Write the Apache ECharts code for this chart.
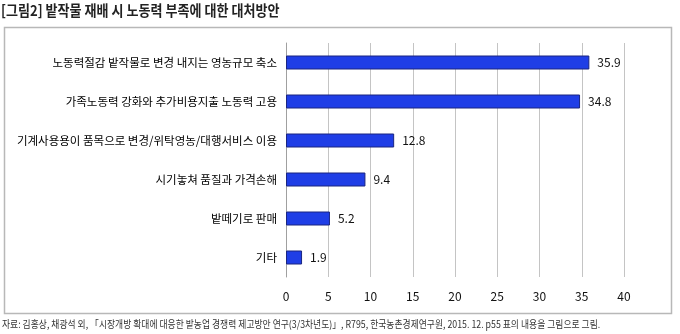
<!DOCTYPE html>
<html>
<head>
<meta charset="utf-8">
<script src="https://cdn.jsdelivr.net/npm/echarts@6/dist/echarts.min.js"></script>
<style>
  html, body { margin: 0; padding: 0; background: #fff; }
  #chart { width: 680px; height: 334px; }
</style>
</head>
<body>
<div id="chart"></div>
<script>
// Responses to farm labour shortage in field-crop cultivation (%)
const categories = [
  '노동력절감 밭작물로 변경 내지는 영농규모 축소',
  '가족노동력 강화와 추가비용지출 노동력 고용',
  '기계사용용이 품목으로 변경/위탁영농/대행서비스 이용',
  '시기놓쳐 품질과 가격손해',
  '밭떼기로 판매',
  '기타'
];
const values = [35.9, 34.8, 12.8, 9.4, 5.2, 1.9];
const xTicks = [0, 5, 10, 15, 20, 25, 30, 35, 40];

const titleText = '[그림2] 밭작물 재배 시 노동력 부족에 대한 대처방안';
const sourceText = '자료: 김홍상, 채광석 외, 「시장개방 확대에 대응한 밭농업 경쟁력 제고방안 연구(3/3차년도)」, R795, 한국농촌경제연구원, 2015. 12. p55 표의 내용을 그림으로 그림.';

const FONT = '"Noto Sans CJK KR", "Noto Sans", sans-serif';

const chart = echarts.init(document.getElementById('chart'), null, { renderer: 'canvas' });

chart.setOption({
  backgroundColor: '#ffffff',
  animation: false,
  textStyle: { fontFamily: FONT },
  graphic: [
    {
      type: 'rect',
      shape: { x: 4.5, y: 27.5, width: 667, height: 286 },
      style: { fill: 'none', stroke: '#b8b8b8', lineWidth: 1.5 },
      z: -1
    },
    {
      // heading, slightly condensed
      type: 'text',
      x: 1,
      y: 3,
      scaleX: 0.87,
      style: { text: titleText, fontFamily: FONT, fontSize: 15, fontWeight: 'bold', fill: '#222' }
    },
    {
      // source note, slightly condensed
      type: 'text',
      x: 2,
      y: 319,
      scaleX: 0.88,
      style: { text: sourceText, fontFamily: FONT, fontSize: 10, fill: '#333' }
    }
  ],
  grid: { left: 286, right: 56, top: 43, bottom: 57, containLabel: false, outerBoundsMode: 'none' },
  xAxis: {
    type: 'value',
    min: xTicks[0],
    max: xTicks[xTicks.length - 1],
    interval: xTicks[1] - xTicks[0],
    axisLine: { show: false },
    axisTick: { show: false },
    axisLabel: { color: '#111', fontSize: 12, margin: 13, fontFamily: FONT },
    splitLine: { show: true, lineStyle: { color: '#c4c4c4', width: 1 } }
  },
  yAxis: {
    type: 'category',
    data: categories,
    inverse: true,
    axisLine: { show: true, lineStyle: { color: '#a0a0a0', width: 1 } },
    axisTick: { show: false },
    axisLabel: { color: '#000', fontSize: 11.5, margin: 9, fontFamily: FONT }
  },
  series: [{
    type: 'bar',
    data: values,
    barWidth: 14,
    itemStyle: { color: '#1f3ee6', borderColor: '#1a2580', borderWidth: 1 },
    label: {
      show: true,
      position: 'right',
      distance: 8,
      color: '#111',
      fontSize: 12,
      fontFamily: FONT,
      formatter: p => p.value.toFixed(1)
    }
  }]
});
</script>
</body>
</html>
